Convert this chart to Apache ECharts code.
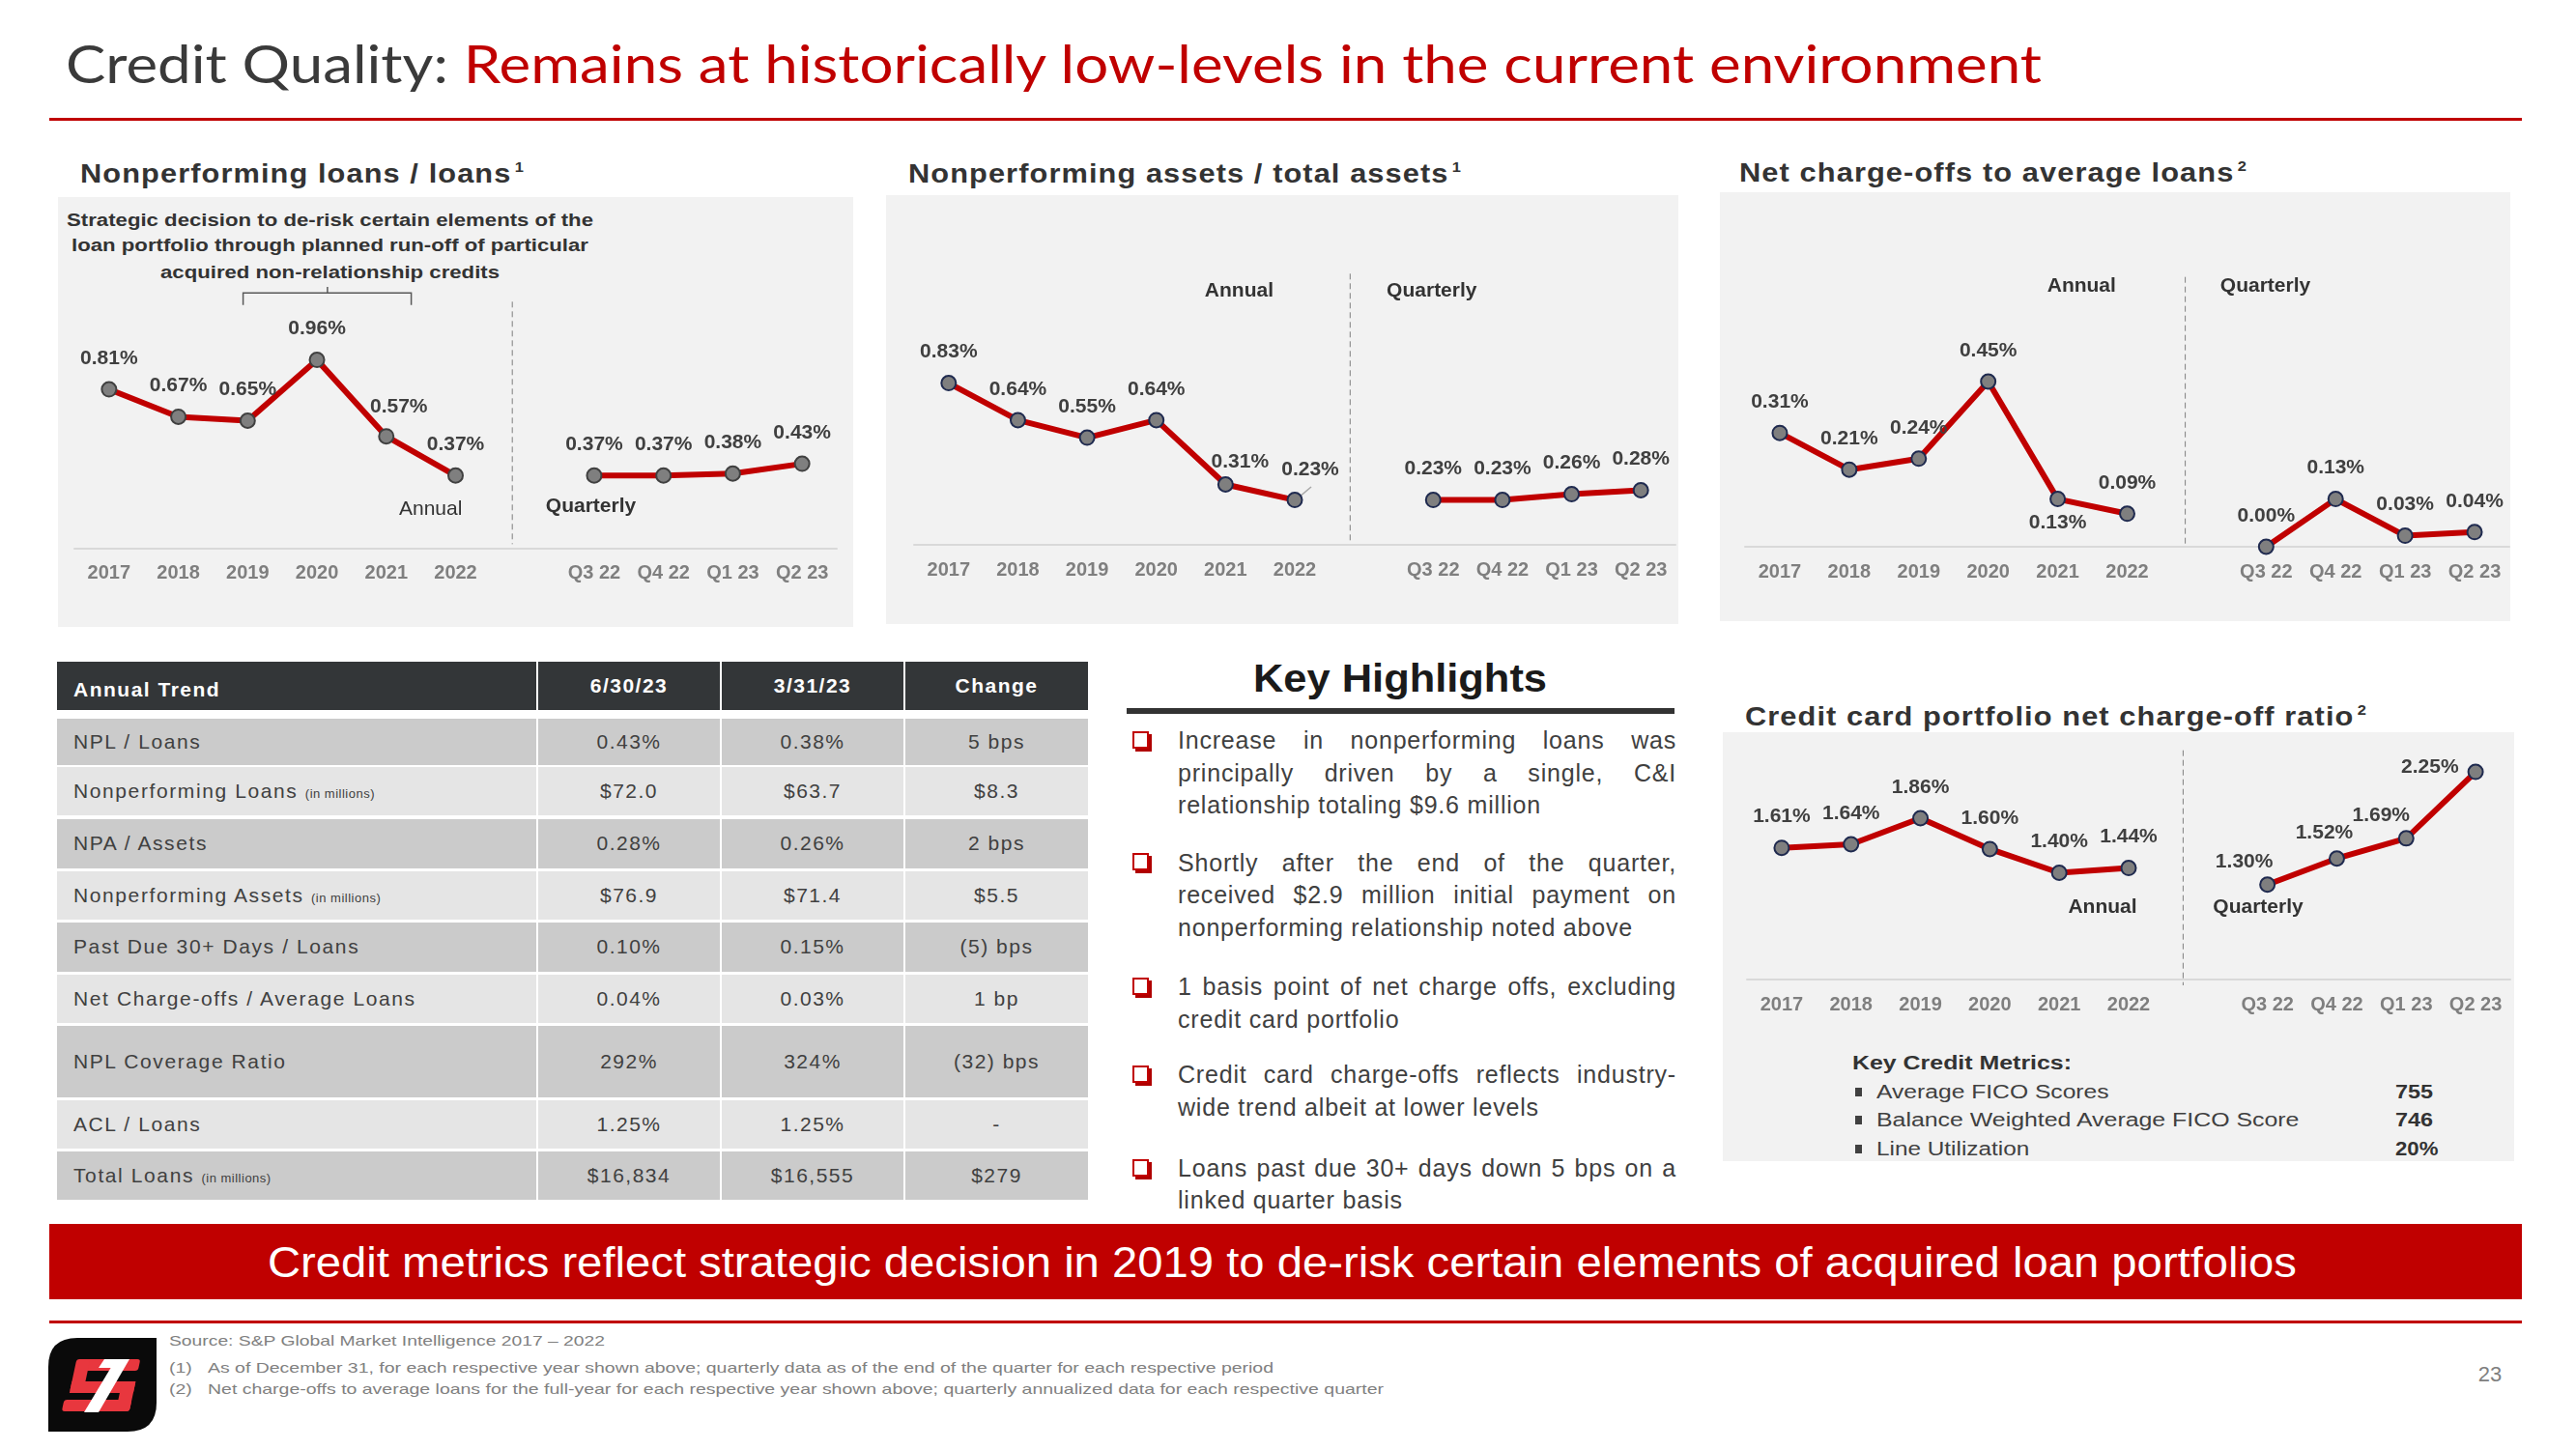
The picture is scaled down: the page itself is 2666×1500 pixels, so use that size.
<!DOCTYPE html>
<html><head><meta charset="utf-8"><title>Credit Quality</title>
<script src="https://cdn.jsdelivr.net/npm/echarts@6/dist/echarts.min.js"></script>
<style>
html,body{margin:0;padding:0;}
body{width:2666px;height:1500px;position:relative;overflow:hidden;background:#fff;font-family:"Liberation Sans",Arial,sans-serif;color:#404040;}
.a{position:absolute;white-space:nowrap;left:0;}
#chart{position:absolute;left:0;top:0;width:2666px;height:1500px;z-index:5;}
.cell{position:absolute;display:flex;align-items:center;box-sizing:border-box;font-size:21px;letter-spacing:1.5px;white-space:nowrap;color:#404040;}
.hl{position:absolute;left:1219px;width:516px;font-size:25px;line-height:33.6px;letter-spacing:0.8px;color:#404040;text-align:justify;text-align-last:justify;}
.hl.last{text-align-last:left;}
.sup{font-size:15px;position:relative;top:-11px;margin-left:3px;}
.box{position:absolute;width:13px;height:14px;border:2px solid #c00000;box-shadow:3px 3px 0 #b00000;background:#fff;}
</style></head><body>
<div id="chart"></div>
<script>
// ---------- chart data ----------
const annualYears = ['2017','2018','2019','2020','2021','2022'];
const quarters = ['Q3 22','Q4 22','Q1 23','Q2 23'];
const nplAnnual = [0.81,0.67,0.65,0.96,0.57,0.37];
const nplQuarterly = [0.37,0.37,0.38,0.43];
const npaAnnual = [0.83,0.64,0.55,0.64,0.31,0.23];
const npaQuarterly = [0.23,0.23,0.26,0.28];
const ncoAnnual = [0.31,0.21,0.24,0.45,0.13,0.09];
const ncoQuarterly = [0.00,0.13,0.03,0.04];
const ccAnnual = [1.61,1.64,1.86,1.60,1.40,1.44];
const ccQuarterly = [1.30,1.52,1.69,2.25];

// ---------- table data ----------
const tableHeader = ['Annual Trend','6/30/23','3/31/23','Change'];
const tableLabels = ['NPL / Loans','Nonperforming Loans','NPA / Assets','Nonperforming Assets','Past Due 30+ Days / Loans','Net Charge-offs / Average Loans','NPL Coverage Ratio','ACL / Loans','Total Loans'];
const tableUnits = ['','(in millions)','','(in millions)','','','','','(in millions)'];
const tableCurrent = ['0.43%','$72.0','0.28%','$76.9','0.10%','0.04%','292%','1.25%','$16,834'];
const tablePrior = ['0.38%','$63.7','0.26%','$71.4','0.15%','0.03%','324%','1.25%','$16,555'];
const tableChange = ['5 bps','$8.3','2 bps','$5.5','(5) bps','1 bp','(32) bps','-','$279'];

// ---------- text content ----------
const highlights = [
  ['Increase in nonperforming loans was','principally driven by a single, C&amp;I','relationship totaling $9.6 million'],
  ['Shortly after the end of the quarter,','received $2.9 million initial payment on','nonperforming relationship noted above'],
  ['1 basis point of net charge offs, excluding','credit card portfolio'],
  ['Credit card charge-offs reflects industry-','wide trend albeit at lower levels'],
  ['Loans past due 30+ days down 5 bps on a','linked quarter basis']
];
const metricLabels = ['Average FICO Scores','Balance Weighted Average FICO Score','Line Utilization'];
const metricValues = ['755','746','20%'];
const footnotes = ['Source: S&amp;P Global Market Intelligence 2017 – 2022',
  '(1)&nbsp;&nbsp;&nbsp;As of December 31, for each respective year shown above; quarterly data as of the end of the quarter for each respective period',
  '(2)&nbsp;&nbsp;&nbsp;Net charge-offs to average loans for the full-year for each respective year shown above; quarterly annualized data for each respective quarter'];

// ---------- helpers ----------
function T(html, x, cy, size, o){
  o = o || {};
  const d = document.createElement('div');
  d.className = 'a';
  d.innerHTML = html;
  const lh = size*1.2;
  d.style.fontSize = size+'px'; d.style.lineHeight = lh+'px';
  d.style.top = (cy-lh/2)+'px';
  if(o.color) d.style.color = o.color;
  if(o.weight) d.style.fontWeight = o.weight;
  if(o.family) d.style.fontFamily = o.family;
  if(o.ls!=null) d.style.letterSpacing = o.ls+'px';
  document.body.appendChild(d);
  let w = d.getBoundingClientRect().width;
  if(o.w){ d.style.transform='scaleX('+(o.w/w)+')'; d.style.transformOrigin='left center'; w=o.w; }
  let left = x;
  if(o.align==='center') left = x-w/2; else if(o.align==='right') left = x-w;
  d.style.left = left+'px';
  return d;
}
function R(x,y,w,h,color,extra){
  const d=document.createElement('div');
  d.style.cssText='position:absolute;left:'+x+'px;top:'+y+'px;width:'+w+'px;height:'+h+'px;background:'+color+';'+(extra||'');
  document.body.appendChild(d); return d;
}

// ---------- slide frame ----------
T('<span style="color:#3a3a3a">Credit Quality: </span><span style="color:#c00000">Remains at historically low-levels in the current environment</span>', 68, 66.7, 54, {family:'Lato', w:2045});
R(51,121.5,2559,3.5,'#c00000');

// panels
R(60,204,823,445,'#f2f2f2');
R(916.5,201.7,820,444,'#f2f2f2');
R(1780,199.3,818,444,'#f2f2f2');
R(1783,758.3,819,444,'#f2f2f2');

// subtitles
const subOpt = {weight:'bold', color:'#333', ls:1};
T('Nonperforming loans / loans<span class="sup">1</span>', 82.5, 180, 28, Object.assign({w:460}, subOpt));
T('Nonperforming assets / total assets<span class="sup">1</span>', 940, 180, 28, Object.assign({w:573}, subOpt));
T('Net charge-offs to average loans<span class="sup">2</span>', 1800, 178.3, 28, Object.assign({w:526}, subOpt));
T('Credit card portfolio net charge-off ratio<span class="sup">2</span>', 1806, 741.7, 28, Object.assign({w:644}, subOpt));

// chart 1 annotation
const annOpt = {weight:'bold', color:'#333', align:'center'};
T('Strategic decision to de-risk certain elements of the', 341.5, 228.3, 18, Object.assign({w:545}, annOpt));
T('loan portfolio through planned run-off of particular', 341.9, 255, 18, Object.assign({w:535}, annOpt));
T('acquired non-relationship credits', 341.9, 282.3, 18, Object.assign({w:351}, annOpt));

// table
const colX=[59,557,747,937], colW=[496,188,188,189];
const rowTops=[743.9,793.6,848,901.5,955.1,1008.7,1062.3,1138.8,1191.6];
const rowHs=[47.8,50.5,50.9,50.5,50.5,50.5,73.4,49.8,50.5];
tableHeader.forEach((h,i)=>{
  const c=R(colX[i],684.5,colW[i],50,'#333638');
  c.className='cell';
  c.style.color='#fff'; c.style.fontWeight='bold';
  c.style.justifyContent = i===0?'flex-start':'center';
  if(i===0) c.style.paddingLeft='17px';
  c.style.paddingTop = i===0?'8px':'0px';
  c.innerHTML='<span>'+h+'</span>';
});
tableLabels.forEach((lab,r)=>{
  const bg = r%2===0 ? '#cbcbcb' : '#e5e5e5';
  const first = '<span>'+lab + (tableUnits[r]?'&nbsp;<span style="font-size:13px;letter-spacing:0.5px">'+tableUnits[r]+'</span>':'')+'</span>';
  const vals=[first, tableCurrent[r], tablePrior[r], tableChange[r]];
  vals.forEach((v,i)=>{
    const c=R(colX[i],rowTops[r],colW[i],rowHs[r],bg);
    c.className='cell';
    c.style.justifyContent = i===0?'flex-start':'center';
    if(i===0){ c.style.paddingLeft='17px'; c.style.letterSpacing='1.6px'; }
    c.innerHTML= i===0 ? v : '<span>'+v+'</span>';
  });
});

// key highlights
T('Key Highlights', 1448.5, 701.5, 40, {weight:'bold', color:'#1a1a1a', w:304, align:'center'});
R(1166,733,567,6,'#333');
const paraFirstCenters=[766.8,893.3,1021.8,1112.7,1209.6];
highlights.forEach((lines,p)=>{
  const b=document.createElement('div'); b.className='box';
  b.style.left='1172px'; b.style.top=(paraFirstCenters[p]-10)+'px';
  document.body.appendChild(b);
  lines.forEach((ln,k)=>{
    const d=document.createElement('div');
    d.className='hl'+(k===lines.length-1?' last':'');
    d.style.top=(paraFirstCenters[p]-16.8+k*33.6)+'px';
    d.innerHTML=ln;
    document.body.appendChild(d);
  });
});

// key credit metrics
T('Key Credit Metrics:', 1917.4, 1100, 20, {weight:'bold', color:'#333', w:227});
const metricY=[1130,1159.3,1189.3], metricW=[240.6,437.4,158.3], metricValW=[39,39,44.4];
metricLabels.forEach((m,i)=>{
  R(1920,metricY[i]-4.5,7,9,'#404040');
  T(m, 1942.4, metricY[i], 20, {color:'#404040', w:metricW[i]});
  T(metricValues[i], 2479, metricY[i], 20, {weight:'bold', color:'#333', w:metricValW[i]});
});

// banner
R(51,1266.7,2559,78.3,'#c00000');
T('Credit metrics reflect strategic decision in 2019 to de-risk certain elements of acquired loan portfolios', 277, 1306.7, 45, {color:'#fff', w:2100});
R(51,1366.5,2559,3.5,'#c00000');

// footnotes
T(footnotes[0], 175, 1388.3, 15, {color:'#808080', w:451});
T(footnotes[1], 175, 1415.7, 15, {color:'#808080', w:1143});
T(footnotes[2], 175, 1438.3, 15, {color:'#808080', w:1257});
T('23', 2577, 1423, 22, {color:'#808080', align:'center'});

// logo
const logo=document.createElement('div');
logo.style.cssText='position:absolute;left:50px;top:1385px;width:112px;height:97px;';
logo.innerHTML='<svg width="112" height="97" viewBox="0 0 112 97"><path d="M30,0 H112 V67 Q112,97 82,97 H0 V30 Q0,0 30,0 Z" fill="#0a0a0a"/>'+
 '<g transform="skewX(-12) translate(10,0)" fill="#e8373e"><rect x="26" y="22" width="64" height="12" rx="3"/><rect x="24" y="22" width="14" height="34" rx="3"/><rect x="24" y="45" width="66" height="12"/><rect x="76" y="45" width="14" height="31" rx="3"/><rect x="20" y="64" width="70" height="12" rx="3"/></g>'+
 '<polygon points="70,22 84,22 52,77 37,77" fill="#fff"/><polygon points="58,22 72,22 66,31 52,31" fill="#fff"/></svg>';
document.body.appendChild(logo);

// ---------- ECharts ----------
const cats = annualYears.concat([''], quarters);
const nA = annualYears.length;
function buildData(annual, quarterly, which, tweaks){
  return cats.map((c,i)=>{
    let v = '-';
    if(which==='a' && i<nA) v = annual[i];
    if(which==='q' && i>nA) v = quarterly[i-nA-1];
    if(v==='-') return '-';
    const item = {value:v};
    if(tweaks && tweaks[i]) item.label = tweaks[i];
    return item;
  });
}
function lineSeries(g, annual, quarterly, border, tweaks){
  const base = {
    type:'line', xAxisIndex:g, yAxisIndex:g, symbol:'circle', symbolSize:15,
    lineStyle:{color:'#c00000', width:6}, itemStyle:{color:'#7f7f7f', borderColor:border, borderWidth:2},
    label:{show:true, position:'top', distance:13, color:'#404040', fontSize:21, fontWeight:'bold', fontFamily:'Liberation Sans',
      formatter:p=>Number(p.value).toFixed(2)+'%'},
    connectNulls:false, silent:true, animation:false, z:3
  };
  return [Object.assign({}, base, {data:buildData(annual, quarterly, 'a', tweaks)}),
          Object.assign({}, base, {data:buildData(annual, quarterly, 'q', tweaks)})];
}
const grids = [
  {left:77, top:364.5, width:789, height:202.8},
  {left:946, top:362.3, width:788, height:201.7},
  {left:1806, top:376, width:791, height:190},
  {left:1808, top:768.4, width:790, height:245.6}
];
const yRanges = [[0,1],[0,1],[0,0.5],[0.5,2.5]];
const xAxes = grids.map((g,i)=>({
  type:'category', gridIndex:i, data:cats, boundaryGap:true,
  axisLine:{lineStyle:{color:'#d9d9d9', width:2}}, axisTick:{show:false},
  axisLabel:{color:'#7f7f7f', fontSize:20, fontWeight:'bold', fontFamily:'Liberation Sans', margin:16, interval:0},
  splitLine:{show:false}
}));
const yAxes = grids.map((g,i)=>({type:'value', gridIndex:i, min:yRanges[i][0], max:yRanges[i][1], show:false, splitLine:{show:false}}));

const tw1 = {4:{offset:[13,1]}};
const tw2 = {4:{offset:[15,9]}, 5:{offset:[16,1]}};
const tw3 = {4:{position:'bottom', distance:6}};
const tw4 = {7:{offset:[-24,8]}, 8:{offset:[-13,5]}, 9:{offset:[-26,8]}, 10:{position:'left', distance:9, offset:[0,-5]}};

const series = [].concat(
  lineSeries(0, nplAnnual, nplQuarterly, '#404040', tw1),
  lineSeries(1, npaAnnual, npaQuarterly, '#1f2a4f', tw2),
  lineSeries(2, ncoAnnual, ncoQuarterly, '#1f2a4f', tw3),
  lineSeries(3, ccAnnual, ccQuarterly, '#1f2a4f', tw4)
);

function dash(x,y1,y2){ return {type:'line', silent:true, shape:{x1:x,y1:y1,x2:x,y2:y2}, style:{stroke:'#7f7f7f', lineWidth:1, lineDash:[6,4]}}; }
function lbl(t,x,y,w){ return {type:'text', silent:true, style:{text:t, x:x, y:y, textAlign:'center', textVerticalAlign:'middle', fill:'#333', font:(w||'bold')+' 21px "Liberation Sans"'}}; }
const graphics = [
  dash(530.2,312.3,563.3), dash(1397.3,283.3,563.3), dash(2261.6,286.7,565), dash(2259.4,776.7,1020),
  lbl('Annual',445.7,527.7,'normal'), lbl('Quarterly',611.5,524),
  lbl('Annual',1282.4,301.7), lbl('Quarterly',1481.8,301.7),
  lbl('Annual',2154.3,296.7), lbl('Quarterly',2344.5,296.7),
  lbl('Annual',2176,939.3), lbl('Quarterly',2337,939.3),
  {type:'polyline', silent:true, shape:{points:[[251.6,315.7],[251.6,303.3],[425.6,303.3],[425.6,315.7]]}, style:{stroke:'#595959', lineWidth:1.5, fill:null}},
  {type:'line', silent:true, shape:{x1:338.9,y1:303.3,x2:338.9,y2:297}, style:{stroke:'#595959', lineWidth:1.5}},
  {type:'line', silent:true, shape:{x1:1357,y1:504,x2:1344,y2:515}, style:{stroke:'#a6a6a6', lineWidth:1.5}}
];

const chart = echarts.init(document.getElementById('chart'), null, {renderer:'canvas'});
chart.setOption({
  backgroundColor:'transparent', animation:false,
  grid:grids, xAxis:xAxes, yAxis:yAxes, series:series, graphic:graphics
});
</script></body></html>
